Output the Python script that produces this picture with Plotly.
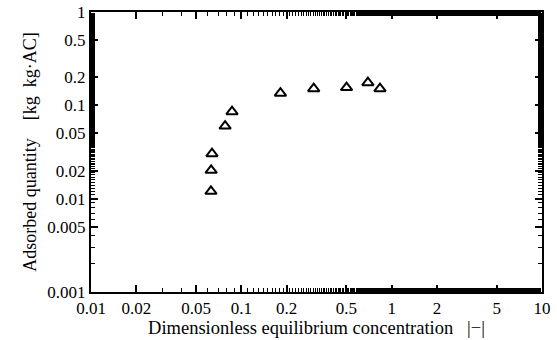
import plotly.graph_objects as go

conc = [0.0628, 0.0630, 0.0638, 0.078, 0.0867, 0.182, 0.303, 0.501, 0.695, 0.836]
adsorbed = [0.0120, 0.0201, 0.0303, 0.0599, 0.0856, 0.135, 0.151, 0.155, 0.175, 0.151]

x_ticks = [0.01, 0.02, 0.05, 0.1, 0.2, 0.5, 1, 2, 5, 10]
x_labels = ["0.01", "0.02", "0.05", "0.1", "0.2", "0.5", "1", "2", "5", "10"]
y_ticks = [0.001, 0.005, 0.01, 0.02, 0.05, 0.1, 0.2, 0.5, 1]
y_labels = ["0.001", "0.005", "0.01", "0.02", "0.05", "0.1", "0.2", "0.5", "1"]

font = "Liberation Serif"

fig = go.Figure()
fig.add_trace(go.Scatter(
    x=conc, y=adsorbed, mode="markers",
    marker=dict(symbol="triangle-up-open", size=10, color="black",
                line=dict(color="black", width=2)),
    showlegend=False,
))

axis_common = dict(
    type="log", showgrid=False, zeroline=False, automargin=False,
    showline=True, linecolor="black", linewidth=2, mirror="allticks",
    ticks="inside", ticklen=7, tickwidth=1.5, tickcolor="black",
    tickfont=dict(family=font, size=17, color="black"),
    minor=dict(ticks="inside", ticklen=4, tickwidth=1, tickcolor="black", showgrid=False),
)

fig.update_xaxes(
    range=[-2, 1], tickvals=x_ticks, ticktext=x_labels,
    title=dict(text="Dimensionless equilibrium concentration   |−|",
               font=dict(family=font, size=18.5, color="black"), standoff=4),
    **axis_common,
)
fig.update_yaxes(
    range=[-3, 0], tickvals=y_ticks, ticktext=y_labels,
    title=dict(text="Adsorbed quantity    [kg  kg·AC]",
               font=dict(family=font, size=18, color="black"), standoff=6),
    **axis_common,
)

fig.update_layout(
    width=557, height=340,
    margin=dict(l=91, r=15, t=12, b=48),
    paper_bgcolor="white", plot_bgcolor="white",
    font=dict(family=font, color="black"),
)

fig.write_html("out.html")
